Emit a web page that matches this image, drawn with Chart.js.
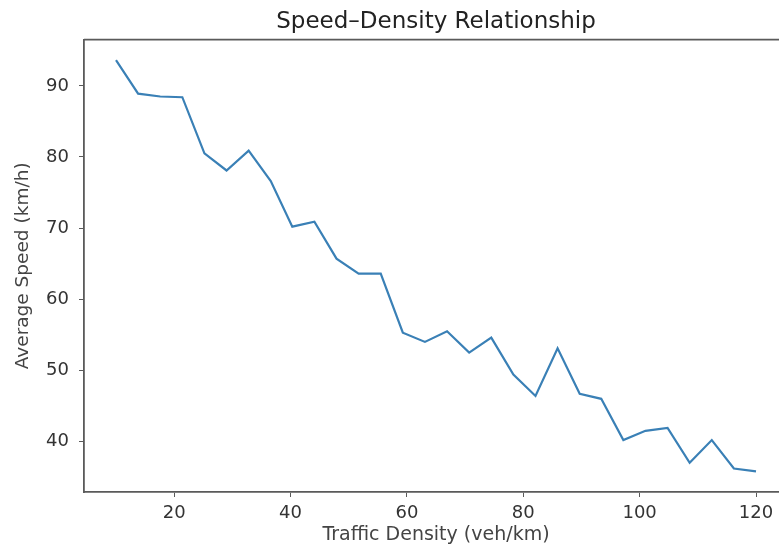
<!DOCTYPE html>
<html>
<head>
<meta charset="utf-8">
<script src="https://cdn.jsdelivr.net/npm/chart.js@4"></script>
<style>
  html, body { margin: 0; padding: 0; background: #fff; overflow: hidden; }
  #wrap { width: 788px; height: 546px; }
</style>
</head>
<body>
<div id="wrap"><canvas id="speedChart"></canvas></div>
<script>
// traffic density (veh/km)
const density = [10, 13.8, 17.6, 21.4, 25.2, 29.0, 32.8, 36.6, 40.3, 44.1,
  47.9, 51.7, 55.5, 59.3, 63.1, 66.9, 70.7, 74.5, 78.3, 82.1,
  85.9, 89.7, 93.4, 97.2, 101.0, 104.8, 108.6, 112.4, 116.2, 120];
// average speed (km/h)
const speed = [93.6, 88.9, 88.5, 88.4, 80.5, 78.1, 80.9, 76.6, 70.2, 70.9,
  65.7, 63.6, 63.6, 55.3, 54.0, 55.5, 52.5, 54.6, 49.4, 46.4,
  53.1, 46.7, 46.0, 40.2, 41.5, 41.9, 37.0, 40.2, 36.2, 35.8];
const xTicks = [20, 40, 60, 80, 100, 120];
const yTicks = [40, 50, 60, 70, 80, 90];

const spineColor = '#5a5a5a';
const textColor = '#333';

// matplotlib-style box: draw the top (and right) spine too
const boxPlugin = {
  id: 'box',
  afterDraw(chart) {
    const { ctx, chartArea: a } = chart;
    ctx.save();
    ctx.strokeStyle = spineColor;
    ctx.lineWidth = 1.8;
    ctx.beginPath();
    ctx.moveTo(a.left, a.top);
    ctx.lineTo(a.right, a.top);
    ctx.lineTo(a.right, a.bottom);
    ctx.stroke();
    ctx.restore();
  }
};

const ctx = document.getElementById('speedChart').getContext('2d');
new Chart(ctx, {
  type: 'line',
  data: {
    datasets: [{
      data: density.map((x, i) => ({ x: x, y: speed[i] })),
      borderColor: '#3a80b6',
      borderWidth: 2.2,
      pointRadius: 0,
      tension: 0,
      fill: false
    }]
  },
  options: {
    responsive: true,
    maintainAspectRatio: false,
    animation: false,
    layout: { padding: 0 },
    scales: {
      x: {
        type: 'linear',
        min: 4.5,
        max: 125.5,
        afterBuildTicks: s => { s.ticks = xTicks.map(v => ({ value: v })); },
        afterFit: s => { s.height = 54; },
        grid: { drawOnChartArea: false, drawTicks: true, tickLength: 5, tickColor: spineColor },
        border: { display: true, color: spineColor, width: 1.8 },
        ticks: { color: textColor, font: { family: 'DejaVu Sans', size: 18 }, padding: 6, maxRotation: 0 },
        title: {
          display: true,
          text: 'Traffic Density (veh/km)',
          color: '#444',
          font: { family: 'DejaVu Sans', size: 19 },
          padding: { top: 0, bottom: 0 }
        }
      },
      y: {
        min: 32.9,
        max: 96.5,
        afterBuildTicks: s => { s.ticks = yTicks.map(v => ({ value: v })); },
        afterFit: s => { s.width = 84; },
        grid: { drawOnChartArea: false, drawTicks: true, tickLength: 5, tickColor: spineColor },
        border: { display: true, color: spineColor, width: 1.8 },
        ticks: { color: textColor, font: { family: 'DejaVu Sans', size: 18 }, padding: 10 },
        title: {
          display: true,
          text: 'Average Speed (km/h)',
          color: '#444',
          font: { family: 'DejaVu Sans', size: 18.5 },
          padding: { top: 12, bottom: 0 }
        }
      }
    },
    plugins: {
      legend: { display: false },
      tooltip: { enabled: false },
      title: {
        display: true,
        fullSize: false,
        text: 'Speed–Density Relationship',
        color: '#222',
        font: { family: 'DejaVu Sans', size: 23, weight: 'normal' },
        padding: { top: 8, bottom: 4 }
      }
    }
  },
  plugins: [boxPlugin]
});
</script>
</body>
</html>
